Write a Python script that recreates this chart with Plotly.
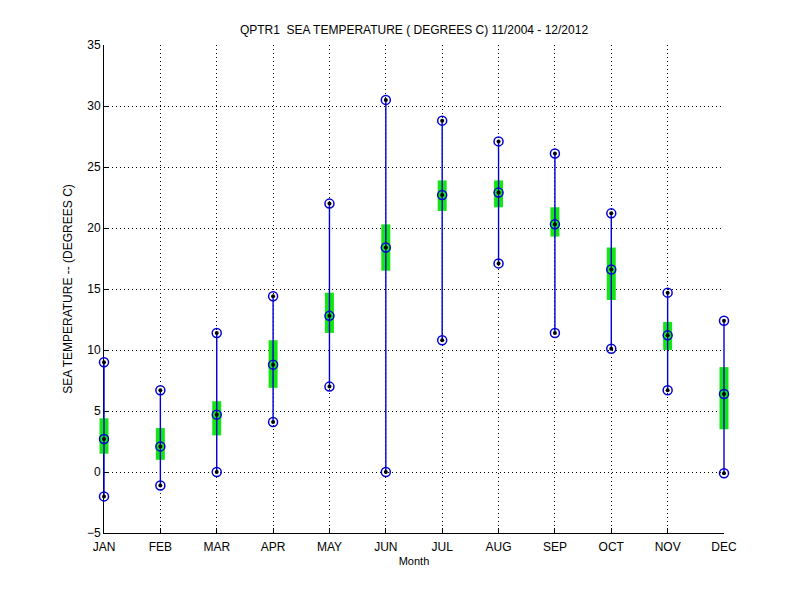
import plotly.graph_objects as go

# monthly stats
months = ['JAN', 'FEB', 'MAR', 'APR', 'MAY', 'JUN', 'JUL', 'AUG', 'SEP', 'OCT', 'NOV', 'DEC']
t_max = [9.0, 6.7, 11.4, 14.4, 22.0, 30.5, 28.8, 27.1, 26.1, 21.2, 14.7, 12.4]
t_min = [-2.0, -1.1, 0.0, 4.1, 7.0, 0.0, 10.8, 17.1, 11.4, 10.1, 6.7, -0.1]
t_mean = [2.7, 2.1, 4.7, 8.8, 12.8, 18.4, 22.7, 22.9, 20.3, 16.6, 11.2, 6.4]
box_top = [4.4, 3.6, 5.8, 10.8, 14.7, 20.3, 23.9, 23.9, 21.7, 18.4, 12.3, 8.6]
box_bot = [1.5, 1.0, 3.0, 6.9, 11.4, 16.5, 21.4, 21.7, 19.3, 14.1, 10.0, 3.5]

xx = list(range(1, 13))
blue = 'rgb(0,0,210)'

# the axes frame is 620px wide; the data subplot is 20px wider on each side
# so the JAN / DEC boxes are not cut in half by the plot clip
pad_px = 20
frame_w = 620
ext = pad_px * 11 / frame_w
dom = pad_px / (frame_w + 2 * pad_px)

fig = go.Figure()

# empty trace so the frame subplot (ticks, grid, labels) gets drawn
fig.add_trace(go.Scatter(x=[None], y=[None], mode='markers', xaxis='x', yaxis='y', hoverinfo='skip'))

# green std boxes (thick error bars)
fig.add_trace(go.Scatter(x=xx, y=t_mean, mode='markers', xaxis='x2', yaxis='y2',
                         marker=dict(size=1, opacity=0),
                         error_y=dict(type='data', symmetric=False,
                                      array=[t - m for t, m in zip(box_top, t_mean)],
                                      arrayminus=[m - b for m, b in zip(t_mean, box_bot)],
                                      width=0, thickness=9, color='rgb(20,230,20)')))

# min-max vertical lines
fig.add_trace(go.Scatter(x=xx, y=t_mean, mode='markers', xaxis='x2', yaxis='y2',
                         marker=dict(size=1, opacity=0),
                         error_y=dict(type='data', symmetric=False,
                                      array=[t - m for t, m in zip(t_max, t_mean)],
                                      arrayminus=[m - b for m, b in zip(t_mean, t_min)],
                                      width=0, thickness=1.4, color=blue)))

# markers: blue circle + black dot
for vals in [t_max, t_min, t_mean]:
    fig.add_trace(go.Scatter(x=xx, y=vals, mode='markers', xaxis='x2', yaxis='y2', cliponaxis=False,
                             marker=dict(symbol='circle-open', size=9, color=blue, line=dict(width=1.5))))
    fig.add_trace(go.Scatter(x=xx, y=vals, mode='markers', xaxis='x2', yaxis='y2', cliponaxis=False,
                             marker=dict(symbol='circle', size=4, color='black')))

# page puts the figure at (8, 8), margins are compensated for that
fig.update_layout(
    width=800, height=600,
    margin=dict(l=96 - pad_px, r=84 - pad_px, t=37, b=75),
    paper_bgcolor='white', plot_bgcolor='rgba(0,0,0,0)',
    showlegend=False,
    font=dict(family='Liberation Sans, Arial', size=12, color='black'),
    title=dict(text='QPTR1  SEA TEMPERATURE ( DEGREES C) 11/2004 - 12/2012',
               x=406 / 800, xanchor='center', y=1 - 22 / 600, yanchor='middle', yref='container',
               font=dict(size=12)),
    xaxis=dict(domain=[dom, 1 - dom], range=[1, 12], tickvals=xx, ticktext=months, anchor='y',
               showline=True, linecolor='black', linewidth=1,
               ticks='inside', ticklen=5, tickcolor='black', ticklabelstandoff=3,
               showgrid=True, gridcolor='black', gridwidth=1, griddash='1px,3px',
               zeroline=False,
               title=dict(text='Month', font=dict(size=11), standoff=3)),
    yaxis=dict(domain=[0, 1], range=[-5, 35], dtick=5, tick0=-5, anchor='x',
               showline=True, linecolor='black', linewidth=1,
               ticks='inside', ticklen=5, tickcolor='black',
               showgrid=True, gridcolor='black', gridwidth=1, griddash='1px,3px',
               zeroline=False,
               title=dict(text='SEA TEMPERATURE -- (DEGREES C)', font=dict(size=12), standoff=11)),
    xaxis2=dict(domain=[0, 1], range=[1 - ext, 12 + ext], anchor='y2', visible=False),
    yaxis2=dict(domain=[0, 1], range=[-5, 35], anchor='x2', visible=False),
)

fig.write_html("out.html")
